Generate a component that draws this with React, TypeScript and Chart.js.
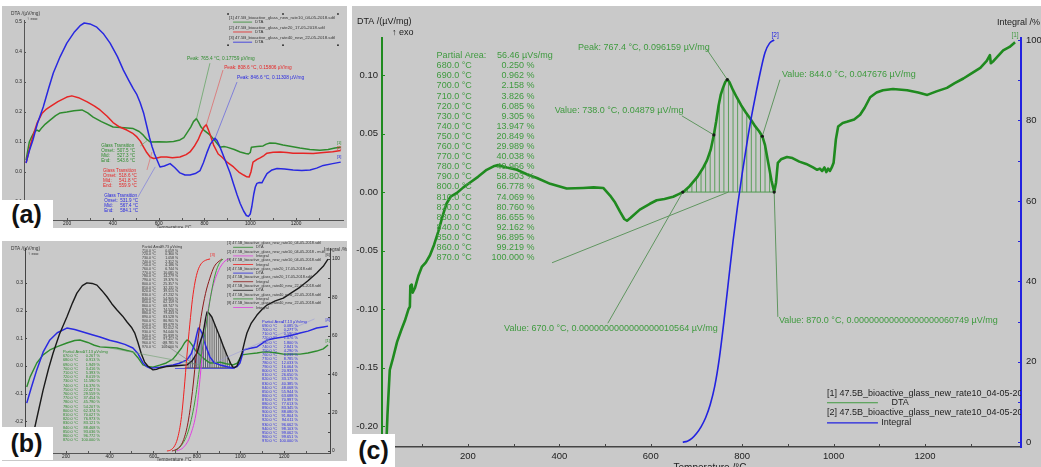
import React, { useEffect, useRef } from "react";
import { Chart, registerables } from "chart.js";

Chart.register(...registerables);

const FONT = '"Liberation Sans", Arial, Helvetica, sans-serif';
const PANEL_BG = "#c9c9c9";

/* ================= panel (a): DTA curves, three heating rates ================= */
const aGreenT = [21,35,47,58,69,78,90,105,126,150,170,199,230,265,290,314,350,401,450,489,515,533,550,563,600,635,665,693,710,723,740,752,765,775,785,800,825,845,868,885,898,930,956,980,992,1000,1005,1030,1056,1070,1086,1110,1143,1180,1217,1260,1304,1340,1370,1395];
const aGreenV = [0.040,0.100,0.120,0.135,0.140,0.136,0.148,0.160,0.173,0.188,0.197,0.200,0.204,0.207,0.197,0.183,0.168,0.150,0.148,0.145,0.135,0.123,0.108,0.100,0.101,0.100,0.102,0.107,0.115,0.130,0.150,0.168,0.178,0.165,0.150,0.138,0.123,0.105,0.083,0.085,0.083,0.075,0.067,0.062,0.060,0.065,0.083,0.085,0.087,0.093,0.097,0.096,0.090,0.085,0.080,0.075,0.073,0.075,0.080,0.083];
const aRedT = [21,40,55,69,90,110,126,160,199,221,250,288,320,344,375,401,430,461,485,505,520,533,548,563,578,593,610,635,660,693,720,737,755,772,785,798,808,820,840,860,876,900,927,950,971,985,995,1003,1012,1030,1043,1060,1073,1100,1131,1160,1187,1230,1275,1320,1360,1395];
const aRedV = [0.030,0.090,0.130,0.163,0.195,0.210,0.218,0.235,0.250,0.254,0.248,0.234,0.220,0.207,0.186,0.165,0.150,0.140,0.130,0.117,0.103,0.085,0.065,0.050,0.045,0.047,0.050,0.050,0.048,0.050,0.058,0.067,0.085,0.107,0.130,0.150,0.158,0.135,0.090,0.060,0.050,0.032,0.017,0.000,-0.010,-0.016,-0.017,0.000,0.033,0.042,0.047,0.055,0.063,0.066,0.067,0.065,0.063,0.063,0.062,0.065,0.068,0.072];
const aBlueT = [21,35,51,70,96,120,140,170,199,230,257,275,300,330,360,388,420,446,470,489,505,519,535,549,560,571,582,593,606,625,650,670,693,715,737,760,781,795,810,825,840,846,855,868,890,912,927,942,956,971,983,992,1000,1007,1015,1022,1029,1040,1051,1062,1073,1095,1117,1150,1187,1225,1261,1290,1319,1360,1395];
const aBlueV = [0.030,0.070,0.107,0.160,0.217,0.280,0.330,0.385,0.430,0.465,0.488,0.497,0.494,0.483,0.460,0.430,0.385,0.340,0.305,0.278,0.258,0.232,0.195,0.150,0.115,0.085,0.060,0.040,0.017,0.020,0.028,0.015,-0.003,-0.010,-0.010,-0.005,0.005,0.030,0.063,0.092,0.108,0.113,0.105,0.083,0.040,-0.003,-0.040,-0.075,-0.105,-0.130,-0.145,-0.148,-0.140,-0.115,-0.075,-0.050,-0.038,-0.035,-0.036,-0.020,-0.005,0.007,0.012,0.010,0.007,0.005,0.007,0.013,0.022,0.028,0.033];
const aXTicks = [100,200,300,400,500,600,700,800,900,1000,1100,1200,1300];
const aYTicks = [-0.1,0,0.1,0.2,0.3,0.4,0.5];
const aLegend = [
  "[1] 47.5B_bioactive_glass_new_rate10_04-05-2018.sdtl",
  "[2] 47.5B_bioactive_glass_rate20_17-05-2018.sdtl",
  "[3] 47.5B_bioactive_glass_rate40_new_22-05-2018.sdtl",
];
const aGreenGT = ["Glass Transition", "Onset:", "507.5 °C", "Mid:", "527.3 °C", "End:", "543.6 °C"];
const aRedGT = ["Glass Transition", "Onset:", "518.6 °C", "Mid:", "541.8 °C", "End:", "559.9 °C"];
const aBlueGT = ["Glass Transition", "Onset:", "531.9 °C", "Mid:", "567.4 °C", "End:", "584.1 °C"];

/* ================= panel (b): DTA + integrals ================= */
const bBlackT = [25,44,70,95,120,141,170,204,230,250,275,296,320,342,365,388,410,434,460,480,500,515,530,545,560,575,599,615,631,660,691,720,755,780,801,815,829,840,847,855,869,885,906,920,938,955,966,975,984,995,1007,1020,1030,1050,1076,1100,1122,1160,1197,1230,1274,1310,1350,1380,1402];
const bBlackV = [-0.320,-0.267,-0.175,-0.087,-0.010,0.047,0.115,0.177,0.228,0.263,0.290,0.300,0.298,0.292,0.272,0.250,0.225,0.202,0.180,0.159,0.140,0.120,0.085,0.045,0.015,0.000,-0.014,-0.012,-0.007,-0.002,0.000,0.002,0.004,0.020,0.047,0.085,0.119,0.170,0.195,0.192,0.177,0.145,0.105,0.075,0.040,0.010,-0.004,-0.005,0.000,0.020,0.047,0.090,0.119,0.155,0.184,0.205,0.220,0.235,0.245,0.262,0.285,0.308,0.336,0.360,0.386];
const bBlueT = [20,40,66,95,126,160,204,240,278,320,356,400,434,470,507,530,553,570,585,610,631,660,691,720,755,775,791,800,807,815,824,840,860,880,906,940,966,985,998,1007,1014,1040,1076,1100,1122,1160,1197,1240,1274,1310,1350,1380,1402];
const bBlueV = [-0.134,-0.080,-0.014,0.050,0.094,0.120,0.137,0.132,0.123,0.113,0.105,0.093,0.087,0.078,0.065,0.045,0.011,-0.002,-0.007,-0.006,-0.004,0.000,0.004,0.010,0.022,0.045,0.083,0.115,0.137,0.132,0.119,0.075,0.033,0.012,0.004,-0.003,-0.007,-0.002,0.011,0.035,0.058,0.063,0.069,0.082,0.094,0.100,0.105,0.112,0.119,0.126,0.137,0.141,0.144];
const bGreenT = [20,35,66,95,126,160,204,240,264,300,330,356,400,434,470,507,530,553,575,599,630,660,690,706,730,745,755,765,778,795,815,840,860,880,906,935,966,985,1000,1007,1040,1076,1100,1122,1160,1197,1240,1274,1310,1350,1380,1402];
const bGreenV = [-0.076,-0.040,0.011,0.040,0.058,0.070,0.083,0.092,0.094,0.085,0.075,0.069,0.067,0.065,0.058,0.051,0.030,0.004,-0.002,-0.004,0.003,0.011,0.025,0.040,0.065,0.085,0.094,0.090,0.076,0.055,0.040,0.022,0.011,0.012,0.014,0.008,0.004,0.010,0.030,0.040,0.044,0.047,0.050,0.051,0.048,0.043,0.043,0.043,0.047,0.054,0.062,0.076];
const bRedIntT = [663,680,700,715,730,742,755,768,780,792,805,820,840,861];
const bRedIntP = [0,0.5,3,8,18,32,50,66,79,88,94,97.5,99.3,100];
const bBrownIntT = [686,700,720,740,760,780,801,820,840,860,880,915];
const bBrownIntP = [0,0.5,2,6,15,31,54,70,82,90,96,100];
const bGreenIntT = [700,730,760,790,815,838,860,880,900,920];
const bGreenIntP = [0,3,10,25,45,62,78,90,97,100];
const bPinkIntT = [708,740,770,800,829,850,870,900,930,950];
const bPinkIntP = [0,2,8,22,54,72,84,94,99,100];
const bHatchT = [760,770,780,790,800,810,820,830,840,850,860,870,880,890,900,910,920,930,940,950,960];
const bHatchV = [0.006,0.012,0.020,0.032,0.046,0.072,0.097,0.122,0.170,0.194,0.187,0.176,0.155,0.135,0.115,0.097,0.075,0.055,0.037,0.018,0.002];
const bBlueHatchT = [770,780,790,800,810,820,830,840,850,860];
const bBlueHatchV = [0.035,0.055,0.080,0.115,0.135,0.125,0.105,0.075,0.053,0.033];
const bBlackAreaT = [710,720,730,740,750,760,770,780,790,800,810,820,830,840,850,860,870,880,890,900,910,920,930,940,950,960,970];
const bBlackAreaPct = [0.059,0.360,1.058,2.312,4.186,6.744,10.081,14.279,19.376,25.357,32.131,39.515,47.232,54.905,62.159,68.747,74.520,79.433,83.528,86.901,89.679,92.012,94.040,95.839,97.417,98.781,100.000];
const bGreenAreaT = [670,680,690,700,710,720,730,740,750,760,770,780,790,800,810,820,830,840,850,860,870];
const bGreenAreaPct = [0.267,0.913,1.949,3.416,5.393,8.019,11.590,16.376,22.427,29.559,37.454,45.790,54.207,62.374,70.027,76.973,83.121,88.468,93.036,96.772,100.000];
const bBlueAreaT = [690,700,710,720,730,740,750,760,770,780,790,800,810,820,830,840,850,860,870,880,890,900,910,920,930,940,950,960,970];
const bBlueAreaPct = [0.085,0.277,0.590,1.076,1.800,2.841,4.290,6.239,8.785,12.033,16.064,20.933,26.650,33.175,40.385,48.068,55.944,63.688,70.997,77.613,83.345,88.080,91.804,94.611,96.662,98.103,99.062,99.651,100.000];
const bXTicks = [100,200,300,400,500,600,700,800,900,1000,1100,1200,1300];
const bYTicks = [-0.3,-0.2,-0.1,0,0.1,0.2,0.3];
const bY2Ticks = [0,10,20,30,40,50,60,70,80,90,100];
const bLegendNames = [
  "[1] 47.5B_bioactive_glass_new_rate10_04-05-2018.sdtl",
  "[2] 47.5B_bioactive_glass_new_rate10_04-05-2018 - multi",
  "[3] 47.5B_bioactive_glass_new_rate10_04-05-2018.sdtl",
  "[4] 47.5B_bioactive_glass_rate20_17-05-2018.sdtl",
  "[5] 47.5B_bioactive_glass_rate20_17-05-2018.sdtl",
  "[6] 47.5B_bioactive_glass_rate40_new_22-05-2018.sdtl",
  "[7] 47.5B_bioactive_glass_rate40_new_22-05-2018.sdtl",
  "[8] 47.5B_bioactive_glass_rate40_new_22-05-2018.sdtl",
];
const bLegendKinds = ["DTA","Integral","Integral","DTA","Integral","DTA","Integral","Integral"];
const bLegendColors = ["#2e8b2e","#e040e0","#f02020","#2a2ae0","#8b1a1a","#1a1a1a","#2e8b2e","#e040e0"];

/* ================= panel (c): DTA rate10 with partial-area integral ================= */
const cDtaT = [21,24,29,36,45,55,62,70,73,74,77,79,84,92,99,108,117,126,135,145,153,162,175,190,204,222,241,256,266,285,307,330,351,380,416,452,475,496,511,522,533,542,548,556,576,598,613,630,649,660,671,685,702,715,723,731,738,743,748,753,758,763,767.4,772,780,788,798,808,817,827,837,844,850,857,864,870,874,878,885,898,910,925,940,955,964,970,975,980,984,988,992,996,1000,1005,1010,1020,1029,1045,1058,1068,1080,1094,1108,1130,1161,1185,1205,1225,1248,1265,1284,1300,1321,1335,1342,1344,1350,1371,1385,1397];
const cDtaV = [-0.220,-0.190,-0.152,-0.142,-0.128,-0.117,-0.110,-0.100,-0.098,-0.080,-0.079,-0.086,-0.082,-0.071,-0.064,-0.060,-0.054,-0.045,-0.034,-0.020,-0.010,-0.004,-0.001,0.004,0.008,0.013,0.019,0.022,0.023,0.021,0.019,0.015,0.012,0.007,0.003,0.0035,0.004,0.0035,-0.003,-0.009,-0.017,-0.023,-0.0245,-0.022,-0.015,-0.010,-0.007,-0.006,-0.004,-0.002,0.000,0.005,0.013,0.021,0.027,0.036,0.0488,0.060,0.073,0.083,0.089,0.094,0.0962,0.094,0.087,0.081,0.074,0.068,0.063,0.057,0.052,0.0477,0.040,0.025,0.010,0.000,0.008,0.025,0.028,0.030,0.029,0.026,0.024,0.021,0.019,0.020,0.018,0.021,0.017,0.020,0.018,0.021,0.025,0.045,0.056,0.059,0.060,0.062,0.066,0.072,0.081,0.085,0.087,0.088,0.087,0.085,0.083,0.086,0.089,0.093,0.097,0.101,0.106,0.112,0.117,0.110,0.112,0.121,0.124,0.128];
const cIntT = [670,680,690,700,710,720,730,740,750,760,770,780,790,800,810,820,830,840,850,860,870];
const cIntP = [0,0.250,0.962,2.158,3.826,6.085,9.305,13.947,20.849,29.989,40.038,49.966,58.803,66.778,74.069,80.760,86.655,92.162,96.895,99.219,100.000];
const cHatchT = [680,690,700,710,720,730,740,750,760,770,780,790,800,810,820,830,840,850,860];
const cHatchV = [0.003,0.007,0.012,0.018,0.025,0.035,0.053,0.077,0.091,0.095,0.087,0.080,0.073,0.067,0.061,0.055,0.050,0.040,0.016];
const cMarkT = [670,738,767.4,844,870];
const cMarkV = [0,0.04879,0.096159,0.047676,0];
const cXTicks = [100,200,300,400,500,600,700,800,900,1000,1100,1200,1300];
const cYTicks = [-0.20,-0.15,-0.10,-0.05,0,0.05,0.10];
const cY2Ticks = [0,10,20,30,40,50,60,70,80,90,100];

/* ================= helpers ================= */
type Pt = { x: number; y: number | null };
const zip = (xs: number[], ys: number[]): Pt[] => xs.map((x, i) => ({ x, y: ys[i] }));
const hatch = (xs: number[], ys: number[], base: number): Pt[] => {
  const out: Pt[] = [];
  xs.forEach((x, i) => out.push({ x, y: base }, { x, y: ys[i] }, { x, y: null }));
  return out;
};
const fnt = (px: number, bold = false) => `${bold ? "bold " : ""}${px}px ${FONT}`;

function annPlugin(items: any[]) {
  return {
    id: "ann",
    afterDatasetsDraw(chart: any) {
      const ctx = chart.ctx as CanvasRenderingContext2D;
      const ca = chart.chartArea;
      const X = (v: number) => chart.scales.x.getPixelForValue(v);
      const Y = (v: number, id?: string) => chart.scales[id || "y"].getPixelForValue(v);
      for (const it of items) {
        ctx.save();
        if (it.clip) {
          ctx.beginPath();
          ctx.rect(ca.left, ca.top, ca.right - ca.left, ca.bottom - ca.top);
          ctx.clip();
        }
        ctx.textBaseline = "middle";
        if (it.k === "line") {
          ctx.strokeStyle = it.c;
          ctx.lineWidth = it.w || 1;
          ctx.beginPath();
          ctx.moveTo(X(it.x1), Y(it.y1, it.yid));
          ctx.lineTo(X(it.x2), Y(it.y2, it.yid));
          ctx.stroke();
        } else if (it.k === "seg") {
          const x0 = X(it.x), y0 = Y(it.y, it.yid) + (it.dy || 0);
          ctx.strokeStyle = it.c;
          ctx.lineWidth = it.w || 1;
          ctx.beginPath();
          ctx.moveTo(x0 + it.dx1, y0);
          ctx.lineTo(x0 + it.dx2, y0);
          ctx.stroke();
        } else if (it.k === "text") {
          ctx.fillStyle = it.c;
          ctx.font = it.f;
          ctx.textAlign = it.al || "left";
          ctx.fillText(it.s, X(it.x) + (it.dx || 0), Y(it.y, it.yid) + (it.dy || 0));
        } else if (it.k === "ptext") {
          ctx.fillStyle = it.c;
          ctx.font = it.f;
          ctx.textAlign = it.al || "left";
          ctx.fillText(it.s, it.x, it.y);
        } else if (it.k === "dot") {
          ctx.fillStyle = it.c;
          ctx.beginPath();
          ctx.arc(X(it.x), Y(it.y, it.yid), it.r, 0, Math.PI * 2);
          ctx.fill();
        } else if (it.k === "sq") {
          ctx.fillStyle = it.c;
          ctx.fillRect(X(it.x) - it.s / 2, Y(it.y, it.yid) - it.s / 2, it.s, it.s);
        } else if (it.k === "table") {
          ctx.fillStyle = it.c;
          ctx.font = it.f;
          const x0 = X(it.x), y0 = Y(it.y, it.yid) + (it.dy0 || 0);
          it.rows.forEach((row: string[], r: number) => {
            row.forEach((s: string, ci: number) => {
              const [off, al] = it.cols[ci];
              ctx.textAlign = al;
              ctx.fillText(s, x0 + off, y0 + r * it.lh);
            });
          });
        }
        ctx.restore();
      }
    },
  };
}

function tickPlugin(list: any[]) {
  return {
    id: "innerTicks",
    afterDraw(chart: any) {
      const ctx = chart.ctx as CanvasRenderingContext2D;
      for (const t of list) {
        const sc = chart.scales[t.id];
        ctx.save();
        ctx.strokeStyle = t.c;
        ctx.lineWidth = t.w || 1;
        ctx.beginPath();
        for (const v of t.values) {
          const p = Math.round(sc.getPixelForValue(v)) + 0.5;
          if (t.dir === "up") { ctx.moveTo(p, sc.top); ctx.lineTo(p, sc.top - t.len); }
          else if (t.dir === "right") { ctx.moveTo(sc.right, p); ctx.lineTo(sc.right + t.len, p); }
          else { ctx.moveTo(sc.left, p); ctx.lineTo(sc.left - t.len, p); }
        }
        ctx.stroke();
        ctx.restore();
      }
    },
  };
}

function axisX(min: number, max: number, ticks: number[], every: number, size: number, height: number, pad: number, border: string, bw: number) {
  return {
    type: "linear", position: "bottom", min, max,
    afterBuildTicks: (s: any) => { s.ticks = ticks.map((v) => ({ value: v })); },
    afterFit: (s: any) => { s.height = height; },
    grid: { display: false, drawTicks: false },
    border: { display: true, color: border, width: bw },
    ticks: { autoSkip: false, maxRotation: 0, minRotation: 0, padding: pad, color: "#222", font: { family: FONT, size },
      callback: (v: number) => (Math.round(v) % every === 0 ? String(v) : "") },
  };
}

function axisY(position: string, min: number, max: number, ticks: number[], fmt: (v: number) => string, size: number, width: number, pad: number, border: string, bw: number) {
  return {
    type: "linear", position, min, max,
    afterBuildTicks: (s: any) => { s.ticks = ticks.map((v) => ({ value: v })); },
    afterFit: (s: any) => { s.width = width; },
    grid: { display: false, drawTicks: false },
    border: { display: true, color: border, width: bw },
    ticks: { autoSkip: false, padding: pad, color: "#222", font: { family: FONT, size }, callback: (v: number) => fmt(v) },
  };
}

const line = (data: Pt[], color: string, width: number, extra: any = {}) => ({
  data, borderColor: color, borderWidth: width, pointRadius: 0, tension: 0, fill: false,
  borderJoinStyle: "round", spanGaps: false, ...extra,
});

const baseOptions = (padding: any, scales: any) => ({
  responsive: false, animation: false, devicePixelRatio: 1, events: [],
  layout: { padding },
  plugins: { legend: { display: false }, tooltip: { enabled: false } },
  scales,
});

/* ================= panel (a) config ================= */
function configA(): any {
  const G = "#2e8b2e", R = "#e52525", B = "#2828e0";
  const f5 = fnt(4.8);
  const gt = (arr: string[], x: number, y: number, c: string) => ({
    k: "table", x, y, c, f: fnt(4.6), lh: 5, cols: [[0, "left"], [16, "left"]],
    rows: [[arr[0], ""], [arr[1], arr[2]], [arr[3], arr[4]], [arr[5], arr[6]]],
  });
  const items: any[] = [
    { k: "ptext", x: 9, y: 8, s: "DTA /(µV/mg)", c: "#333", f: f5 },
    { k: "ptext", x: 25, y: 13, s: "↑ exo", c: "#333", f: fnt(4.4) },
    { k: "ptext", x: 172, y: 221.5, s: "Temperature /°C", c: "#333", f: f5, al: "center" },
    { k: "line", x1: 824, y1: 0.363, x2: 765.4, y2: 0.17759, c: "#5aa05a", w: 0.7 },
    { k: "line", x1: 881, y1: 0.34, x2: 808.6, y2: 0.15806, c: "#e06060", w: 0.7 },
    { k: "line", x1: 942, y1: 0.30, x2: 846.6, y2: 0.11308, c: "#6060e0", w: 0.7 },
    { k: "text", x: 724, y: 0.377, s: "Peak: 765.4 °C, 0.17759 µV/mg", c: G, f: f5 },
    { k: "text", x: 886, y: 0.347, s: "Peak: 808.6 °C, 0.15806 µV/mg", c: R, f: f5 },
    { k: "text", x: 942, y: 0.313, s: "Peak: 846.6 °C, 0.11308 µV/mg", c: B, f: f5 },
    gt(aGreenGT, 349, 0.087, G),
    gt(aRedGT, 357, 0.003, R),
    gt(aBlueGT, 362, -0.080, B),
    { k: "line", x1: 520, y1: 0.087, x2: 555, y2: 0.108, c: "#5aa05a", w: 0.6 },
    { k: "line", x1: 549, y1: 0.007, x2: 571, y2: 0.067, c: "#e06060", w: 0.6 },
    { k: "line", x1: 510, y1: -0.083, x2: 585, y2: 0.017, c: "#7070e0", w: 0.6 },
    { k: "text", x: 907, y: 0.513, s: aLegend[0], c: "#333", f: fnt(4.3) },
    { k: "text", x: 907, y: 0.480, s: aLegend[1], c: "#333", f: fnt(4.3) },
    { k: "text", x: 907, y: 0.447, s: aLegend[2], c: "#333", f: fnt(4.3) },
    { k: "line", x1: 925, y1: 0.500, x2: 1008, y2: 0.500, c: G, w: 0.8 },
    { k: "line", x1: 925, y1: 0.467, x2: 1008, y2: 0.467, c: R, w: 0.8 },
    { k: "line", x1: 925, y1: 0.433, x2: 1008, y2: 0.433, c: B, w: 0.8 },
    { k: "text", x: 1021, y: 0.500, s: "DTA", c: "#333", f: fnt(4.3) },
    { k: "text", x: 1021, y: 0.467, s: "DTA", c: "#333", f: fnt(4.3) },
    { k: "text", x: 1021, y: 0.433, s: "DTA", c: "#333", f: fnt(4.3) },
    ...[903, 1143, 1383].flatMap((x) => [
      { k: "sq", x, y: 0.527, s: 1.6, c: "#222" },
      { k: "sq", x, y: 0.423, s: 1.6, c: "#222" },
    ]),
    { k: "text", x: 1388, y: 0.097, s: "[1]", c: G, f: fnt(4), al: "center" },
    { k: "text", x: 1388, y: 0.080, s: "[2]", c: R, f: fnt(4), al: "center" },
    { k: "text", x: 1388, y: 0.050, s: "[3]", c: B, f: fnt(4), al: "center" },
  ];
  return {
    type: "line",
    data: { datasets: [
      line(zip(aBlueT, aBlueV), B, 1.5),
      line(zip(aRedT, aRedV), R, 1.5),
      line(zip(aGreenT, aGreenV), G, 1.5),
    ] },
    options: baseOptions({ left: 0, right: 4, top: 14, bottom: 0 }, {
      x: axisX(12, 1405, aXTicks, 200, 4.8, 8, 1, "#555", 1),
      y: axisY("left", -0.16, 0.507, aYTicks, (v) => v.toFixed(1), 4.8, 22, 2, "#555", 1),
    }),
    plugins: [annPlugin(items), tickPlugin([
      { id: "x", values: aXTicks, len: 2, c: "#555", dir: "up" },
      { id: "y", values: aYTicks, len: 2, c: "#555", dir: "right" },
    ])],
  };
}

/* ================= panel (b) config ================= */
function configB(): any {
  const G = "#2e8b2e", B = "#2a2ae0", K = "#1a1a1a", R = "#f02020", BR = "#8b1a1a", P = "#e040e0";
  const items: any[] = [
    { k: "ptext", x: 9, y: 8, s: "DTA /(µV/mg)", c: "#333", f: fnt(4.8) },
    { k: "ptext", x: 26, y: 13, s: "↑ exo", c: "#333", f: fnt(4.4) },
    { k: "ptext", x: 345, y: 9, s: "Integral /%", c: "#333", f: fnt(4.8), al: "right" },
    { k: "ptext", x: 172, y: 218.5, s: "Temperature /°C", c: "#333", f: fnt(4.8), al: "center" },
    { k: "line", x1: 402, y1: 0.065, x2: 815, y2: 0.004, c: "#6f9f6f", w: 0.6 },
    { k: "line", x1: 880, y1: 0.011, x2: 1340, y2: 0.17, c: "#9a9ad8", w: 0.6 },
    { k: "line", x1: 640, y1: 0.085, x2: 800, y2: 0.0, c: "#666", w: 0.5 },
    { k: "text", x: 549, y: 0.43, s: "Partial Area:", c: "#333", f: fnt(3.6) },
    { k: "text", x: 549, y: 0.43, dx: 18, s: "39.73 µVs/mg", c: "#333", f: fnt(3.6) },
    { k: "table", x: 549, y: 0.43, dy0: 3.7, lh: 3.7, c: "#333", f: fnt(3.5), cols: [[0, "left"], [36, "right"]],
      rows: bBlackAreaT.map((t, i) => [`${t.toFixed(1)} °C`, `${bBlackAreaPct[i].toFixed(3)} %`]) },
    { k: "text", x: 186, y: 0.051, s: "Partial Area:", c: G, f: fnt(4) },
    { k: "text", x: 186, y: 0.051, dx: 20, s: "57.13 µVs/mg", c: G, f: fnt(4) },
    { k: "table", x: 186, y: 0.051, dy0: 4.2, lh: 4.2, c: G, f: fnt(3.9), cols: [[0, "left"], [37, "right"]],
      rows: bGreenAreaT.map((t, i) => [`${t.toFixed(1)} °C`, `${bGreenAreaPct[i].toFixed(3)} %`]) },
    { k: "text", x: 1099, y: 0.159, s: "Partial Area:", c: B, f: fnt(4) },
    { k: "text", x: 1099, y: 0.159, dx: 20, s: "47.13 µVs/mg", c: B, f: fnt(4) },
    { k: "table", x: 1099, y: 0.159, dy0: 4.1, lh: 4.1, c: B, f: fnt(3.9), cols: [[0, "left"], [36, "right"]],
      rows: bBlueAreaT.map((t, i) => [`${t.toFixed(1)} °C`, `${bBlueAreaPct[i].toFixed(3)} %`]) },
    ...bLegendNames.flatMap((s, i) => [
      { k: "text", x: 939, y: 0.444, dy: 2 * i * 4.3, s, c: "#333", f: fnt(3.8) },
      { k: "seg", x: 939, y: 0.444, dy: (2 * i + 1) * 4.3, dx1: 6, dx2: 26, c: bLegendColors[i], w: 0.8 },
      { k: "text", x: 939, y: 0.444, dy: (2 * i + 1) * 4.3, dx: 29, s: bLegendKinds[i], c: "#333", f: fnt(3.8) },
    ]),
    { k: "text", x: 872, y: 102, yid: "y2", s: "[3]", c: R, f: fnt(4), al: "center" },
    { k: "text", x: 1400, y: 102, yid: "y2", s: "[6]", c: "#333", f: fnt(4), al: "center" },
    { k: "text", x: 1400, y: 0.165, s: "[4]", c: B, f: fnt(4), al: "center" },
    { k: "text", x: 1400, y: 0.092, s: "[1]", c: G, f: fnt(4), al: "center" },
  ];
  return {
    type: "line",
    data: { datasets: [
      line(zip(bRedIntT, bRedIntP), R, 1, { yAxisID: "y2", cubicInterpolationMode: "monotone" }),
      line(zip(bBrownIntT, bBrownIntP), BR, 1, { yAxisID: "y2", cubicInterpolationMode: "monotone" }),
      line(zip(bGreenIntT, bGreenIntP), "#3aa03a", 1, { yAxisID: "y2", cubicInterpolationMode: "monotone" }),
      line(zip(bPinkIntT, bPinkIntP), P, 1, { yAxisID: "y2", cubicInterpolationMode: "monotone" }),
      line(zip(bBlackT, bBlackV), K, 1.4),
      line(zip(bBlueT, bBlueV), B, 1.5),
      line(zip(bGreenT, bGreenV), G, 1.4),
      line(hatch(bHatchT, bHatchV, -0.006), "#333", 0.6),
      line(hatch(bBlueHatchT, bBlueHatchV, -0.009), "#5858e8", 0.5),
      line(zip([745, 965], [-0.006, -0.006]), "#333", 0.6),
      line(zip([700, 975], [-0.009, -0.009]), B, 0.7),
    ] },
    options: baseOptions({ left: 0, right: 0, top: 7, bottom: 0 }, {
      x: axisX(12, 1411, bXTicks, 200, 4.8, 8, 1, "#555", 1),
      y: axisY("left", -0.314, 0.426, bYTicks, (v) => v.toFixed(1), 4.8, 23, 2, "#444", 1),
      y2: axisY("right", -1.04, 105.7, bY2Ticks, (v) => (v % 20 === 0 ? String(v) : ""), 4.8, 17, 2, "#444", 1),
    }),
    plugins: [annPlugin(items), tickPlugin([
      { id: "x", values: bXTicks, len: 2, c: "#555", dir: "up" },
      { id: "y", values: bYTicks, len: 2, c: "#444", dir: "right" },
      { id: "y2", values: bY2Ticks, len: 2, c: "#444", dir: "left" },
    ])],
  };
}

/* ================= panel (c) config ================= */
function configC(): any {
  const DG = "#1f8a1f", TG = "#3f9a3f", LG = "#5f955f", BL = "#2222e0";
  const F9 = fnt(9);
  const items: any[] = [
    { k: "ptext", x: 5, y: 16, s: "DTA /(µV/mg)", c: "#222", f: F9 },
    { k: "ptext", x: 40, y: 27, s: "↑ exo", c: "#222", f: F9 },
    { k: "ptext", x: 688, y: 17, s: "Integral /%", c: "#222", f: F9, al: "right" },
    { k: "ptext", x: 358, y: 462, s: "Temperature /°C", c: "#222", f: fnt(10), al: "center" },
    { k: "text", x: 131.5, y: 0.1165, s: "Partial Area:", c: TG, f: F9 },
    { k: "text", x: 263.5, y: 0.1165, s: "56.46 µVs/mg", c: TG, f: F9 },
    { k: "table", x: 131.5, y: 0.1165, dy0: 10.1, lh: 10.1, c: TG, f: F9, cols: [[0, "left"], [98, "right"]],
      rows: cIntT.slice(1).map((t, i) => [`${t.toFixed(1)} °C`, `${cIntP[i + 1].toFixed(3)} %`]) },
    { k: "line", x1: 723, y1: 0.1216, x2: 767.4, y2: 0.096159, c: LG, w: 1 },
    { k: "line", x1: 668, y1: 0.0651, x2: 738, y2: 0.04879, c: LG, w: 1 },
    { k: "line", x1: 882.7, y1: 0.096, x2: 844, y2: 0.047676, c: LG, w: 1 },
    { k: "line", x1: 506, y1: -0.1121, x2: 670, y2: 0, c: LG, w: 1 },
    { k: "line", x1: 870, y1: 0, x2: 878, y2: -0.1066, c: LG, w: 1 },
    { k: "line", x1: 384, y1: -0.0604, x2: 770, y2: 0, c: LG, w: 1 },
    { k: "text", x: 440.7, y: 0.1233, s: "Peak: 767.4 °C, 0.096159 µV/mg", c: TG, f: F9 },
    { k: "text", x: 390, y: 0.0695, s: "Value: 738.0 °C, 0.04879 µV/mg", c: TG, f: F9 },
    { k: "text", x: 887, y: 0.1002, s: "Value: 844.0 °C, 0.047676 µV/mg", c: TG, f: F9 },
    { k: "text", x: 279, y: -0.1165, s: "Value: 670.0 °C, 0.0000000000000000010564 µV/mg", c: TG, f: F9 },
    { k: "text", x: 880.5, y: -0.110, s: "Value: 870.0 °C, 0.00000000000000000060749 µV/mg", c: TG, f: F9 },
    ...cMarkT.map((x, i) => ({ k: "dot", x, y: cMarkV[i], r: 1.6, c: "#1a1a1a" })),
    { k: "text", x: 1397, y: 0.1344, s: "[1]", c: TG, f: fnt(6.5), al: "center" },
    { k: "text", x: 872, y: 0.1344, s: "[2]", c: BL, f: fnt(6.5), al: "center" },
    { k: "text", x: 985.5, y: -0.1720, s: "[1] 47.5B_bioactive_glass_new_rate10_04-05-2018.sdtl", c: "#222", f: F9, clip: true },
    { k: "line", x1: 985.6, y1: -0.180, x2: 1097, y2: -0.180, c: TG, w: 1.2 },
    { k: "text", x: 1145.5, y: -0.180, s: "DTA", c: "#222", f: F9, al: "center" },
    { k: "text", x: 985.5, y: -0.1886, s: "[2] 47.5B_bioactive_glass_new_rate10_04-05-2018.sdtl", c: "#222", f: F9, clip: true },
    { k: "line", x1: 985.6, y1: -0.1972, x2: 1097, y2: -0.1972, c: BL, w: 1.2 },
    { k: "text", x: 1137, y: -0.1972, s: "Integral", c: "#222", f: F9, al: "center" },
  ];
  return {
    type: "line",
    data: { datasets: [
      line(zip(cIntT, cIntP), BL, 1.6, { yAxisID: "y2", cubicInterpolationMode: "monotone" }),
      line(zip(cDtaT, cDtaV), DG, 2.6),
      line(hatch(cHatchT, cHatchV, 0), "#4f9a4f", 0.9),
      line(zip([670, 870], [0, 0]), "#4f9a4f", 1),
    ] },
    options: baseOptions({ left: 0, right: 0, top: 32, bottom: 0 }, {
      x: axisX(12, 1410, cXTicks, 200, 9.5, 20, 4, "#444", 1.5),
      y: axisY("left", -0.2178, 0.1316, cYTicks, (v) => v.toFixed(2), 9.5, 30, 4, DG, 2),
      y2: axisY("right", -1.2, 100.5, cY2Ticks, (v) => (v % 20 === 0 ? String(v) : ""), 9.5, 20, 5, BL, 2),
    }),
    plugins: [annPlugin(items), tickPlugin([
      { id: "x", values: cXTicks, len: 3, c: "#444", dir: "up" },
      { id: "y", values: cYTicks, len: 3, c: DG, dir: "right" },
      { id: "y2", values: cY2Ticks, len: 3, c: BL, dir: "left" },
    ])],
  };
}

/* ================= components ================= */
function Panel(props: { left: number; top: number; width: number; height: number; build: () => any }) {
  const ref = useRef<HTMLCanvasElement>(null);
  useEffect(() => {
    const chart = new Chart(ref.current as HTMLCanvasElement, props.build());
    return () => chart.destroy();
  }, []);
  return (
    <canvas
      ref={ref}
      width={props.width}
      height={props.height}
      style={{ position: "absolute", left: props.left, top: props.top, width: props.width, height: props.height, background: PANEL_BG }}
    />
  );
}

function Tag(props: { left: number; top: number; w: number; h: number; text: string }) {
  return (
    <div
      style={{
        position: "absolute", left: props.left, top: props.top, width: props.w, height: props.h,
        background: "#fff", color: "#111", font: `bold 25px ${FONT}`, lineHeight: `${props.h}px`,
        textAlign: "center",
      }}
    >
      {props.text}
    </div>
  );
}

export default function App() {
  return (
    <div style={{ position: "fixed", left: 0, top: 0, width: 1041, height: 467, background: "#fff", overflow: "hidden" }}>
      <Panel left={2} top={6} width={345} height={222} build={configA} />
      <Panel left={2} top={241} width={345} height={220} build={configB} />
      <Panel left={352} top={6} width={689} height={461} build={configC} />
      <Tag left={0} top={200} w={53} h={28} text="(a)" />
      <Tag left={0} top={427} w={53} h={33} text="(b)" />
      <Tag left={352} top={434} w={43} h={33} text="(c)" />
    </div>
  );
}
